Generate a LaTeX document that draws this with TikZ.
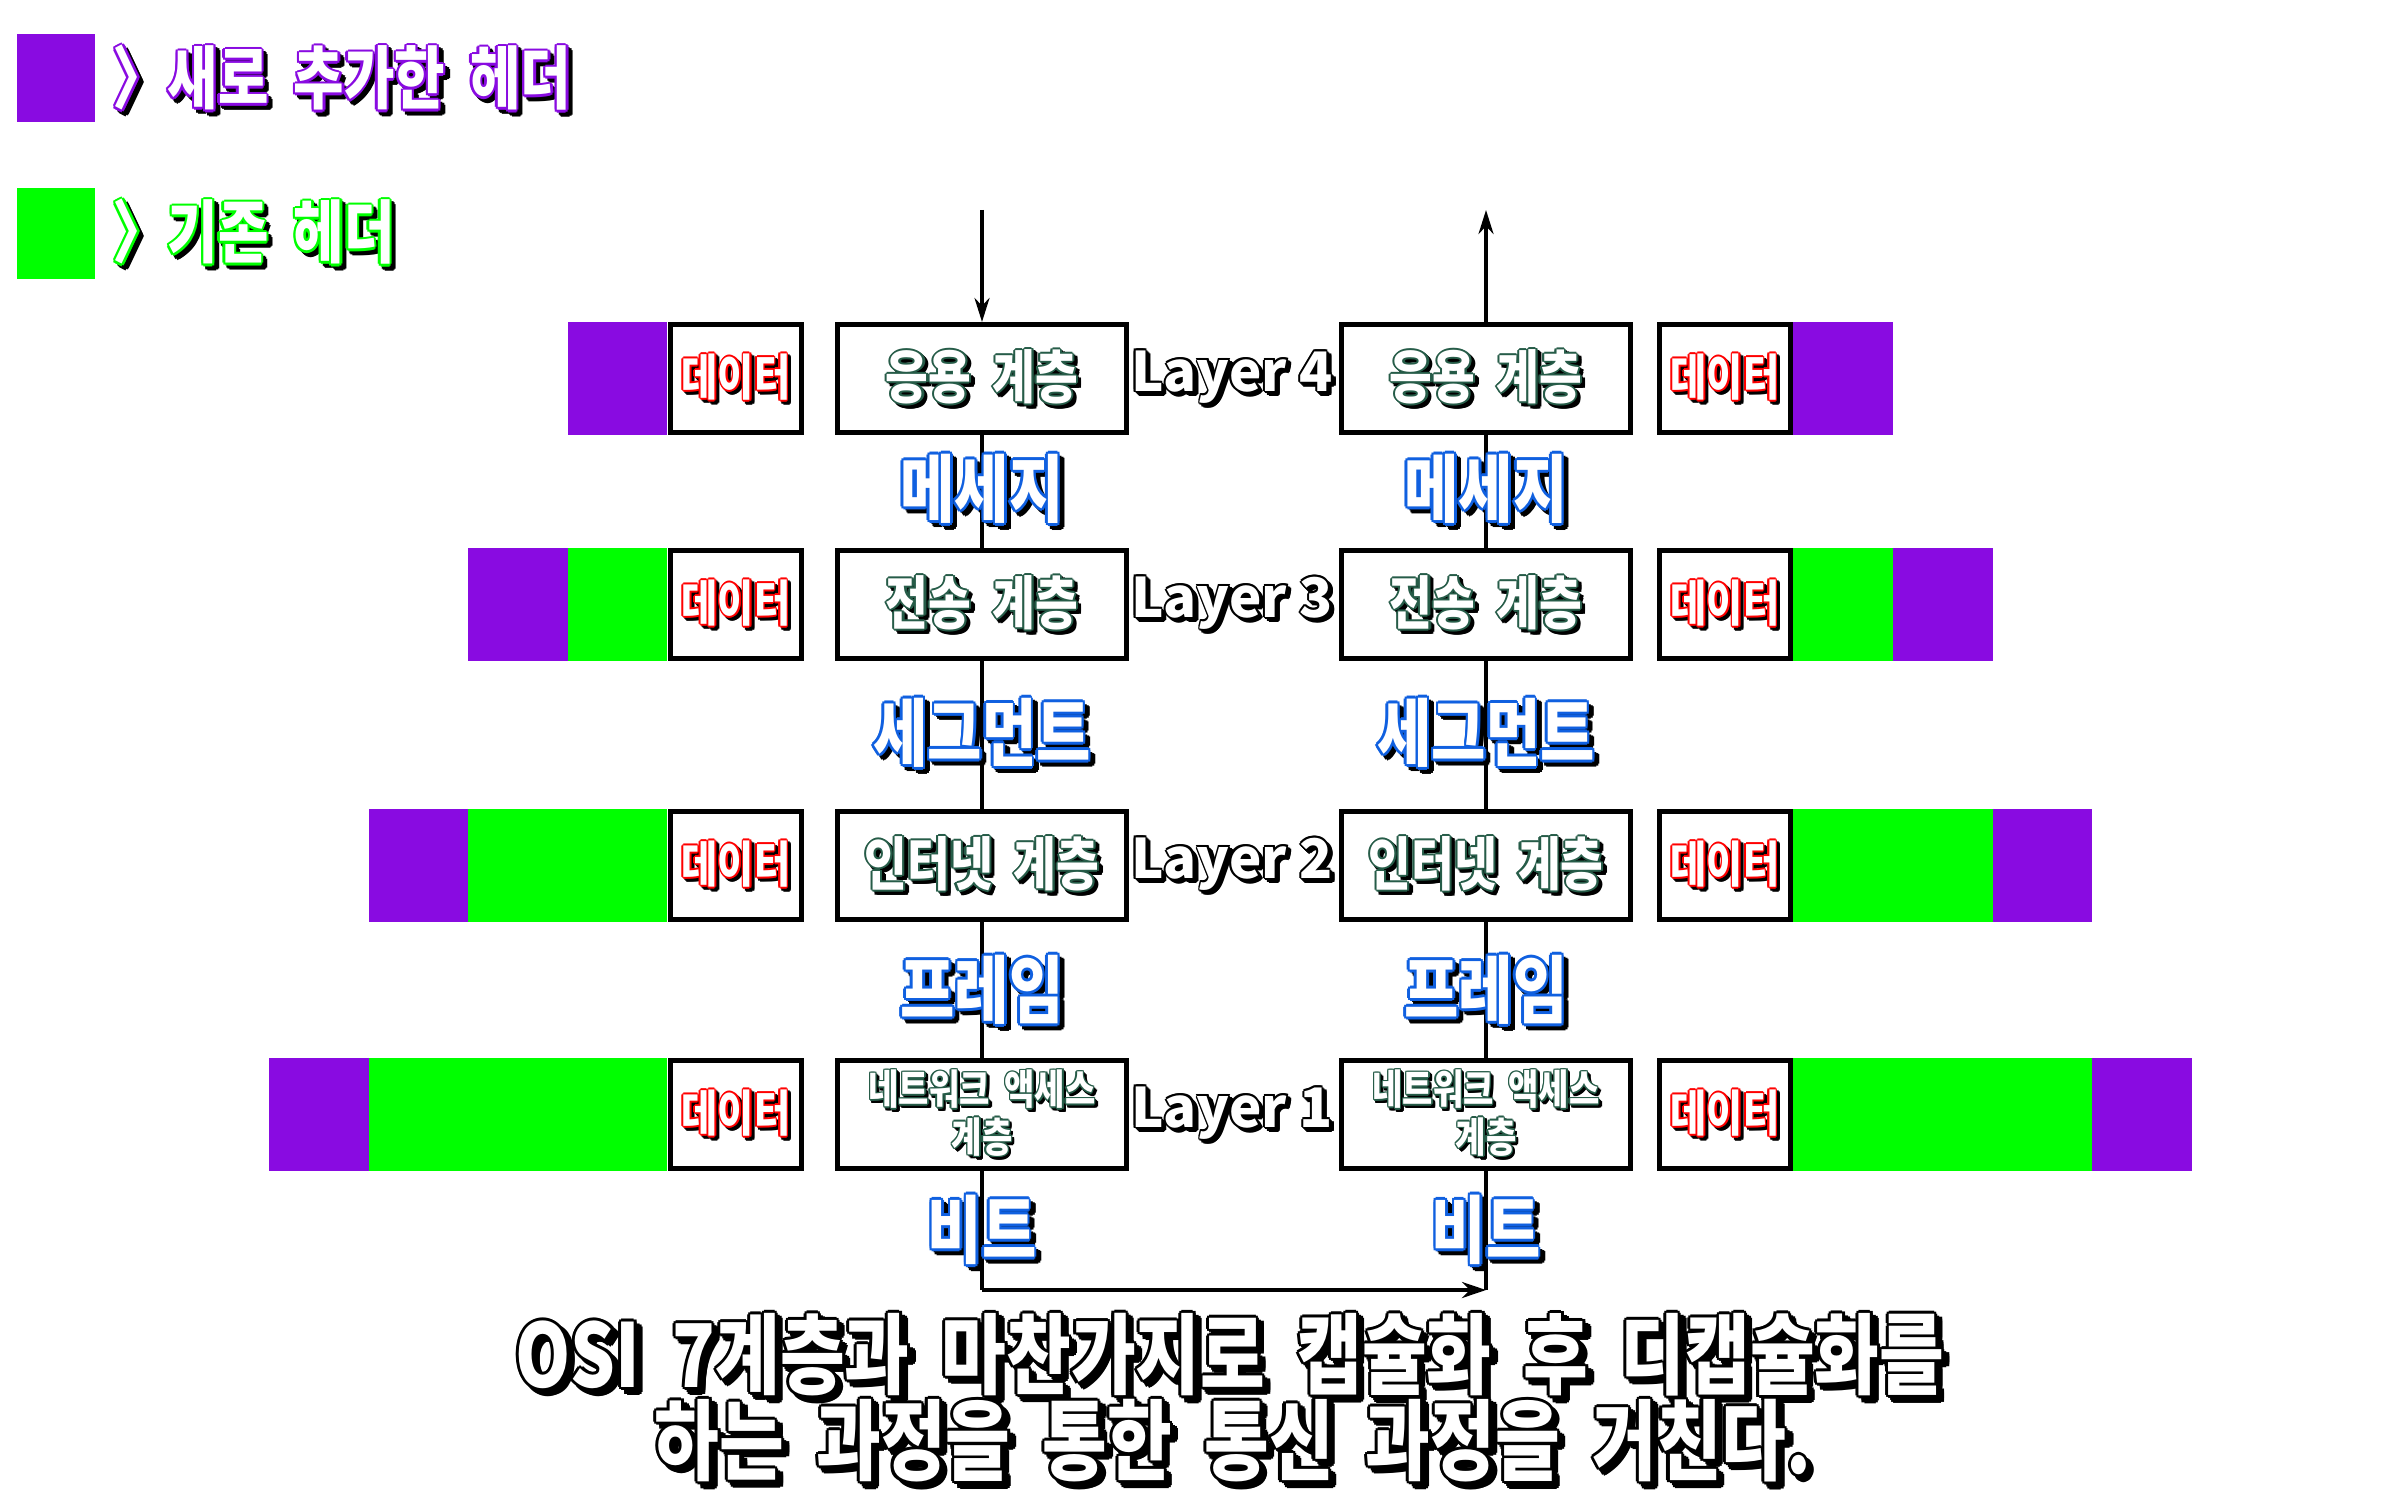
\documentclass[tikz,border=0pt]{standalone}
\usepackage{fontspec}
\usetikzlibrary{arrows.meta}
\newfontfamily\kr{Noto Sans CJK KR}[FakeStretch=0.8,WordSpace=2]
\newfontfamily\krw{Noto Sans CJK KR}
\definecolor{npurple}{RGB}{137,11,225}
\definecolor{ngreen}{RGB}{0,255,0}
\definecolor{dred}{RGB}{255,0,0}
\definecolor{lgreen}{RGB}{38,92,72}
\definecolor{lblue}{RGB}{16,96,224}
\newcommand\fxcopy[3]{\rlap{\kern\dimexpr#1\relax\raise\dimexpr#2\relax\hbox{#3}}}
\newcommand\fxring[4]{%
 \fxcopy{#2+0.035em}{#3}{\color{#1}#4}%
 \fxcopy{#2-0.035em}{#3}{\color{#1}#4}%
 \fxcopy{#2}{#3+0.035em}{\color{#1}#4}%
 \fxcopy{#2}{#3-0.035em}{\color{#1}#4}%
 \fxcopy{#2+0.025em}{#3+0.025em}{\color{#1}#4}%
 \fxcopy{#2-0.025em}{#3+0.025em}{\color{#1}#4}%
 \fxcopy{#2+0.025em}{#3-0.025em}{\color{#1}#4}%
 \fxcopy{#2-0.025em}{#3-0.025em}{\color{#1}#4}}
\newcommand\fx[2]{{\fxring{black}{0.06em}{-0.06em}{#2}\fxring{#1}{0pt}{0pt}{#2}\hbox{\color{white}#2}}}
\tikzset{
 box/.style={draw=black, line width=0.05cm, fill=white, inner sep=0pt, minimum height=1.08cm},
 layerbox/.style={box, minimum width=2.89cm, font=\kr\bfseries\fontsize{16.5}{18}\selectfont},
 databox/.style={box, minimum width=1.30cm, font=\kr\bfseries\fontsize{14}{15}\selectfont},
 con/.style={line width=0.04cm},
 arr/.style={line width=0.035cm, -{Stealth[length=0.24cm,width=0.15cm]}},
 lyr/.style={inner sep=0pt, font=\krw\bfseries\fontsize{15.5}{17}\selectfont},
 pdu/.style={inner sep=0pt, font=\kr\bfseries\fontsize{21}{23}\selectfont},
 leg/.style={inner sep=0pt, anchor=west, font=\kr\bfseries\fontsize{19.5}{21}\selectfont},
 big/.style={inner sep=0pt, font=\kr\bfseries\fontsize{25}{27}\selectfont},
}
\begin{document}
\begin{tikzpicture}[x=0.01cm,y=-0.01cm]
\useasboundingbox (0,0) rectangle (2400,1500);
% legend
\fill[npurple] (17,34) rectangle (95,122);
\fill[ngreen] (17,188) rectangle (95,279);
\node[leg] (legA) at (112,80) {\fx{npurple}{〉새로 추가한 헤더}};
\node[leg] (legB) at (112,234) {\fx{ngreen}{〉기존 헤더}};
% colored header blocks
\fill[npurple] (568,322) rectangle (667,435);
\fill[ngreen] (568,548) rectangle (667,661);
\fill[npurple] (468,548) rectangle (568,661);
\fill[ngreen] (468,809) rectangle (667,922);
\fill[npurple] (369,809) rectangle (468,922);
\fill[ngreen] (369,1058) rectangle (667,1171);
\fill[npurple] (269,1058) rectangle (369,1171);
\fill[npurple] (1792,322) rectangle (1893,435);
\fill[ngreen] (1792,548) rectangle (1893,661);
\fill[npurple] (1893,548) rectangle (1993,661);
\fill[ngreen] (1792,809) rectangle (1993,922);
\fill[npurple] (1993,809) rectangle (2092,922);
\fill[ngreen] (1792,1058) rectangle (2092,1171);
\fill[npurple] (2092,1058) rectangle (2192,1171);
% layer boxes
\node[layerbox] (L4) at (982,378.5) {\fx{lgreen}{응용 계층}};
\node[layerbox] (L3) at (982,604.5) {\fx{lgreen}{전송 계층}};
\node[layerbox] (L2) at (982,865.5) {\fx{lgreen}{인터넷 계층}};
\node[layerbox, align=center, font=\kr\bfseries\fontsize{11.7}{12.5}\selectfont] (L1) at (982,1114.5) {\fx{lgreen}{네트워크 액세스}\\\fx{lgreen}{계층}};
\node[layerbox] (R4) at (1486,378.5) {\fx{lgreen}{응용 계층}};
\node[layerbox] (R3) at (1486,604.5) {\fx{lgreen}{전송 계층}};
\node[layerbox] (R2) at (1486,865.5) {\fx{lgreen}{인터넷 계층}};
\node[layerbox, align=center, font=\kr\bfseries\fontsize{11.7}{12.5}\selectfont] (R1) at (1486,1114.5) {\fx{lgreen}{네트워크 액세스}\\\fx{lgreen}{계층}};
% data boxes
\node[databox] (LD4) at (736,378.5) {\fx{dred}{데이터}};
\node[databox] (LD3) at (736,604.5) {\fx{dred}{데이터}};
\node[databox] (LD2) at (736,865.5) {\fx{dred}{데이터}};
\node[databox] (LD1) at (736,1114.5) {\fx{dred}{데이터}};
\node[databox] (RD4) at (1725,378.5) {\fx{dred}{데이터}};
\node[databox] (RD3) at (1725,604.5) {\fx{dred}{데이터}};
\node[databox] (RD2) at (1725,865.5) {\fx{dred}{데이터}};
\node[databox] (RD1) at (1725,1114.5) {\fx{dred}{데이터}};
% layer labels
\node[lyr] (N4) at (1232,378.5) {\fx{black}{Layer 4}};
\node[lyr] (N3) at (1232,604.5) {\fx{black}{Layer 3}};
\node[lyr] (N2) at (1232,865.5) {\fx{black}{Layer 2}};
\node[lyr] (N1) at (1232,1114.5) {\fx{black}{Layer 1}};
% connectors
\coordinate (tl) at (982,210);
\coordinate (tr) at (1486,210);
\coordinate (bl) at (982,1290);
\coordinate (br) at (1486,1290);
\draw[arr] (tl) -- (L4.north);
\draw[arr] (R4.north) -- (tr);
\draw[con] (L4.south) -- (L3.north);
\draw[con] (L3.south) -- (L2.north);
\draw[con] (L2.south) -- (L1.north);
\draw[con] (R4.south) -- (R3.north);
\draw[con] (R3.south) -- (R2.north);
\draw[con] (R2.south) -- (R1.north);
\draw[con] (L1.south) -- (bl);
\draw[con] (R1.south) -- (br);
\draw[con, -{Stealth[length=0.24cm,width=0.16cm]}] (bl) -- (br);
% PDU labels
\node[pdu] (PL4) at (982,491) {\fx{lblue}{메세지}};
\node[pdu] (PL3) at (982,735) {\fx{lblue}{세그먼트}};
\node[pdu] (PL2) at (982,992) {\fx{lblue}{프레임}};
\node[pdu] (PL1) at (982,1232) {\fx{lblue}{비트}};
\node[pdu] (PR4) at (1486,491) {\fx{lblue}{메세지}};
\node[pdu] (PR3) at (1486,735) {\fx{lblue}{세그먼트}};
\node[pdu] (PR2) at (1486,992) {\fx{lblue}{프레임}};
\node[pdu] (PR1) at (1486,1232) {\fx{lblue}{비트}};
% bottom text
\node[big] (T1) at (1230,1357) {\fx{black}{OSI 7계층과 마찬가지로 캡슐화 후 디캡슐화를}};
\node[big] (T2) at (1233,1443) {\fx{black}{하는 과정을 통한 통신 과정을 거친다.}};
\end{tikzpicture}
\end{document}
